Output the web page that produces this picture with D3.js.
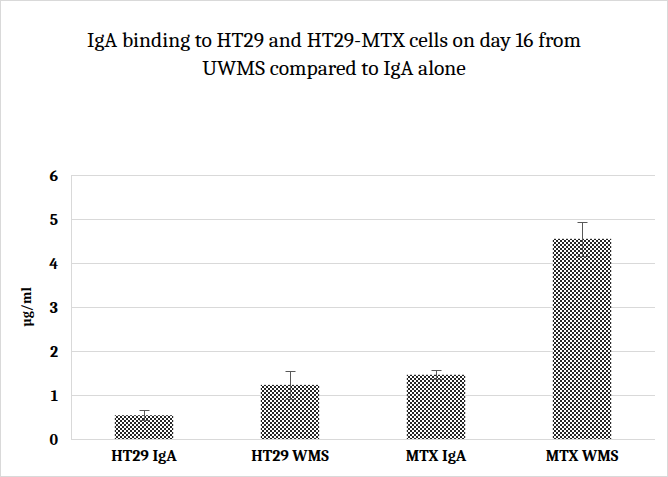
<!DOCTYPE html>
<html>
<head>
<meta charset="utf-8">
<script src="https://cdn.jsdelivr.net/npm/d3@7"></script>
<style>
    body { margin: 0; background: #fff; }
    svg { display: block; font-family: Cambria, Caladea, "Liberation Serif", serif; }
    .grid line { stroke: #d9d9d9; stroke-width: 1; }
    .axis-y text { font-size: 16px; font-weight: bold; fill: #000; }
    .axis-x text { font-size: 16px; font-weight: bold; fill: #000; }
</style>
</head>
<body>
<div id="chart"></div>
<script>
// Mean µg/ml and error bar half-height per group.
const categories = ["HT29 IgA", "HT29 WMS", "MTX IgA", "MTX WMS"];
const means = [0.54, 1.23, 1.46, 4.55];
const errors = [0.11, 0.31, 0.10, 0.38];
const yTicks = [0, 1, 2, 3, 4, 5, 6];
const titleLines = ["IgA binding to HT29 and HT29-MTX cells on day 16 from", "UWMS compared to IgA alone"];

const data = categories.map((name, i) => ({ name, value: means[i], err: errors[i] }));

const width = 668;
const height = 477;
const margin = { top: 175, right: 13, bottom: 38, left: 71 };

const svg = d3.select("#chart")
    .append("svg")
    .attr("width", width)
    .attr("height", height);

// checker fill like the Excel pattern
const defs = svg.append("defs");
const pattern = defs.append("pattern")
    .attr("id", "checker")
    .attr("patternUnits", "userSpaceOnUse")
    .attr("width", 4)
    .attr("height", 4);
pattern.append("rect").attr("width", 4).attr("height", 4).attr("fill", "#fff");
pattern.append("rect").attr("width", 2).attr("height", 2).attr("fill", "#262626");
pattern.append("rect").attr("x", 2).attr("y", 2).attr("width", 2).attr("height", 2).attr("fill", "#262626");

svg.append("rect")
    .attr("x", 0.5)
    .attr("y", 0.5)
    .attr("width", width - 1)
    .attr("height", height - 1)
    .attr("fill", "#fff")
    .attr("stroke", "#d9d9d9");

const x = d3.scaleBand()
    .domain(categories)
    .range([margin.left, width - margin.right])
    .paddingInner(0.6)
    .paddingOuter(0.3);

const y = d3.scaleLinear()
    .domain([0, 6])
    .range([height - margin.bottom, margin.top]);

svg.append("g")
    .attr("class", "grid")
    .selectAll("line")
    .data(yTicks)
    .join("line")
    .attr("x1", margin.left)
    .attr("x2", width - margin.right)
    .attr("y1", d => y(d) + 0.5)
    .attr("y2", d => y(d) + 0.5);

svg.append("line")
    .attr("x1", margin.left + 0.5)
    .attr("x2", margin.left + 0.5)
    .attr("y1", y(6))
    .attr("y2", y(0))
    .attr("stroke", "#d9d9d9");

const axisY = d3.axisLeft(y)
    .tickValues(yTicks)
    .tickFormat(d3.format("d"))
    .tickSize(0)
    .tickPadding(13);

svg.append("g")
    .attr("class", "axis-y")
    .attr("transform", `translate(${margin.left},0)`)
    .call(axisY)
    .call(g => g.attr("font-family", null).attr("font-size", null))
    .call(g => g.select(".domain").remove());

const axisX = d3.axisBottom(x)
    .tickSize(0)
    .tickPadding(11);

svg.append("g")
    .attr("class", "axis-x")
    .attr("transform", `translate(0,${height - margin.bottom})`)
    .call(axisX)
    .call(g => g.attr("font-family", null).attr("font-size", null))
    .call(g => g.select(".domain").remove());

svg.append("g")
    .selectAll("rect")
    .data(data)
    .join("rect")
    .attr("x", d => x(d.name))
    .attr("y", d => y(d.value))
    .attr("width", x.bandwidth())
    .attr("height", d => y(0) - y(d.value))
    .attr("fill", "url(#checker)");

const errG = svg.append("g")
    .attr("stroke", "#595959")
    .attr("stroke-width", 1)
    .selectAll("g")
    .data(data)
    .join("g")
    .attr("transform", d => `translate(${Math.round(x(d.name) + x.bandwidth() / 2) + 0.5},0)`);

errG.append("line")
    .attr("y1", d => y(d.value + d.err))
    .attr("y2", d => y(d.value - d.err));
errG.append("line")
    .attr("x1", -5).attr("x2", 5)
    .attr("y1", d => Math.round(y(d.value + d.err)) + 0.5)
    .attr("y2", d => Math.round(y(d.value + d.err)) + 0.5);
errG.append("line")
    .attr("x1", -5).attr("x2", 5)
    .attr("y1", d => Math.round(y(d.value - d.err)) + 0.5)
    .attr("y2", d => Math.round(y(d.value - d.err)) + 0.5);

svg.append("text")
    .attr("transform", `translate(31,${(y(0) + y(6)) / 2}) rotate(-90)`)
    .attr("text-anchor", "middle")
    .attr("font-size", 14)
    .attr("font-weight", "bold")
    .text("µg/ml");

svg.append("g")
    .selectAll("text")
    .data(titleLines)
    .join("text")
    .attr("x", width / 2)
    .attr("y", (_, i) => 47 + i * 28)
    .attr("text-anchor", "middle")
    .attr("font-size", 21.5)
    .text(d => d);
</script>
</body>
</html>
